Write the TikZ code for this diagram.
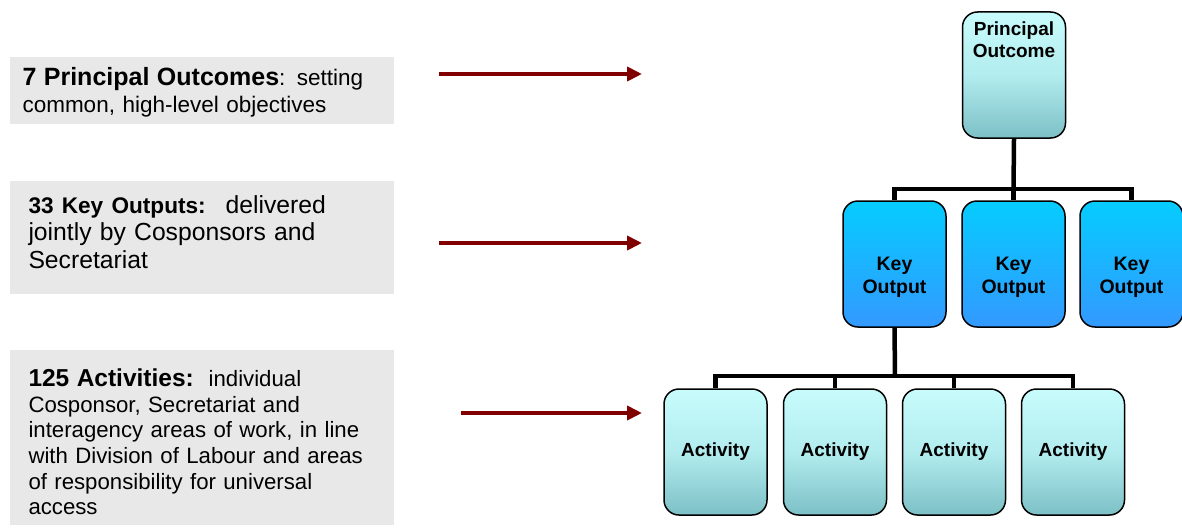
\documentclass[tikz,border=0pt]{standalone}
\usepackage{fontspec}
\setmainfont{Liberation Sans}
\usetikzlibrary{arrows.meta}
\definecolor{arrowred}{HTML}{800000}
\definecolor{panelgray}{HTML}{E8E8E8}
\definecolor{cyanlight}{HTML}{C8FCFC}
\definecolor{cyanmid}{HTML}{B2ECEE}
\definecolor{tealdark}{HTML}{7CC0C6}
\definecolor{bluetop}{HTML}{05CCFF}
\definecolor{bluebot}{HTML}{3399FF}
\newcommand{\fsz}[2]{\fontsize{#1}{#2}\selectfont}
\tikzset{
  panel/.style={fill=panelgray, draw=none},
  paneltext/.style={anchor=north west, inner sep=0pt, align=left, text width=370pt},
  levelarrow/.style={draw=arrowred, line width=4pt, -{Triangle[length=15pt,width=14pt]}},
  boxbase/.style={draw=black, line width=1.5pt, rounded corners=15pt,
    minimum width=103pt, minimum height=126pt, inner sep=0pt,
    font=\fsz{19}{22}\bfseries, align=center},
  palebox/.style={boxbase, top color=cyanlight, bottom color=tealdark, middle color=cyanmid},
  bluebox/.style={boxbase, top color=bluetop, bottom color=bluebot},
  kolabel/.style={label={[inner sep=0pt, align=center, font=\fsz{19.5}{23}\bfseries, yshift=-13pt]center:Key\\Output}},
  conn/.style={draw=black, line width=4.5pt, line join=miter}
}
\begin{document}
\begin{tikzpicture}[x=1pt,y=-1pt]
\useasboundingbox (0,0) rectangle (1182,527);
% left panels
\fill[panel] (10,57) rectangle (394,124);
\fill[panel] (10,181) rectangle (394,294);
\fill[panel] (10,350) rectangle (394,525);
\node[paneltext, font=\fsz{22.5}{27}] (t1) at (22.3,67.5)
  {{\fsz{25}{27}\bfseries 7 Principal Outcomes}: setting\\common, high-level objectives};
\node[paneltext, font=\fsz{24.7}{27.5}] (t2) at (28.3,195)
  {{\fsz{22.6}{27.5}\bfseries 33 Key Outputs:}\hspace{20pt}delivered\\jointly by Cosponsors and\\Secretariat};
\node[paneltext, font=\fsz{22.2}{25.7}] (t3) at (28.3,368.5)
  {{\fsz{24.5}{25.7}\bfseries 125 Activities:}\ \ individual\\Cosponsor, Secretariat and\\interagency areas of work, in line\\with Division of Labour and areas\\of responsibility for universal\\access};
% arrows
\coordinate (a1s) at (439,74);  \coordinate (a1e) at (642,74);
\coordinate (a2s) at (439,243); \coordinate (a2e) at (642,243);
\coordinate (a3s) at (461,413); \coordinate (a3e) at (642,413);
\draw[levelarrow] (a1s) -- (a1e);
\draw[levelarrow] (a2s) -- (a2e);
\draw[levelarrow] (a3s) -- (a3e);
% junction points of the org-chart connectors
\coordinate (bar1) at (1013.5,189);
\coordinate (bar2) at (895,376);
% boxes
\node[palebox] (po) at (1014,75) {};
\node[anchor=north, inner sep=0pt, align=center, font=\fsz{19}{22}\bfseries, yshift=-10pt] (potext) at (po.north) {Principal\\Outcome};
\node[bluebox, kolabel] (ko1) at (894.5,264) {};
\node[bluebox, kolabel] (ko2) at (1013.5,264) {};
\node[bluebox, kolabel] (ko3) at (1131.5,264) {};
\node[palebox] (ac1) at (715.5,452) {Activity};
\node[palebox] (ac2) at (835,452) {Activity};
\node[palebox] (ac3) at (954,452) {Activity};
\node[palebox] (ac4) at (1073,452) {Activity};
\draw[conn] (po.south) -- (bar1);
\draw[conn] (ko1.north) |- (bar1);
\draw[conn] (ko3.north) |- (bar1);
\draw[conn] (ko2.north) -- (bar1);
\draw[conn] (ko1.south) -- (bar2);
\draw[conn] (ac1.north) |- (bar2);
\draw[conn] (ac4.north) |- (bar2);
\draw[conn] (ac2.north) -- (ac2.north |- bar2);
\draw[conn] (ac3.north) -- (ac3.north |- bar2);
\end{tikzpicture}
\end{document}
